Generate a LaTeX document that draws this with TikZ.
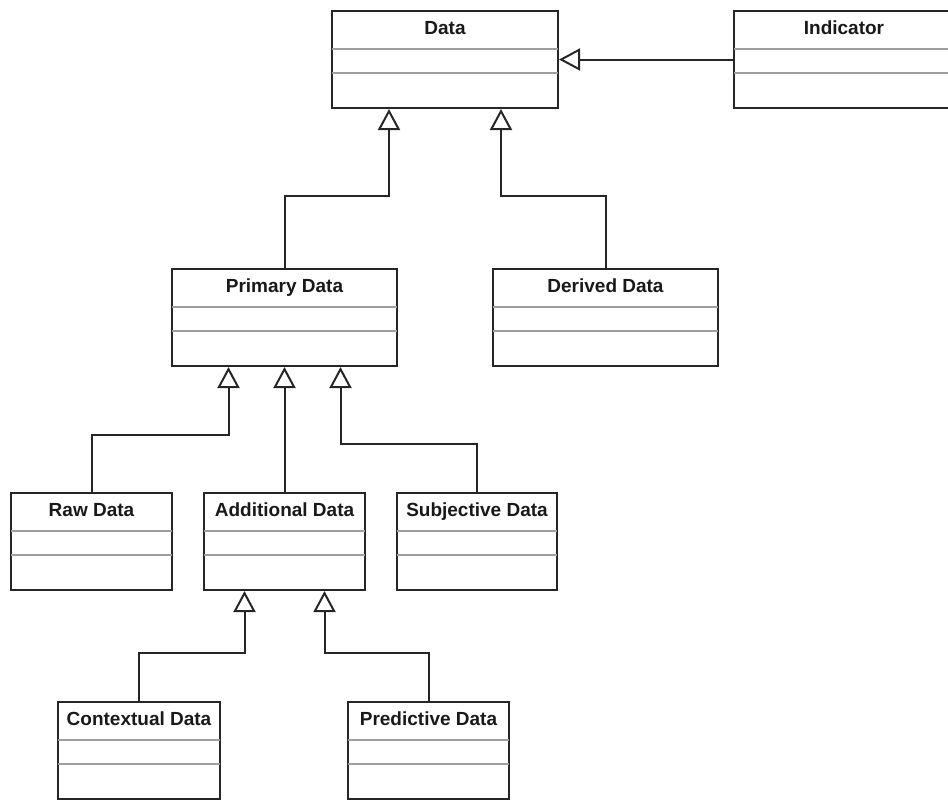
\documentclass[tikz,border=0pt]{standalone}
\usepackage{fontspec}
\setmainfont{Liberation Sans}
\usetikzlibrary{arrows.meta}
\tikzset{
  cls/.style={draw=black!85, line width=2pt, rectangle, anchor=north west, minimum height=97pt, inner sep=0pt},
  ttl/.style={font=\fontsize{19}{21}\selectfont\bfseries, text=black!90, inner sep=0pt, anchor=base},
  sep/.style={draw=black!38, line width=1.6pt},
  inh/.style={draw=black!85, line width=2pt, -{Triangle[open, length=21pt, width=22pt, fill=white]}},
}
\newcommand{\umlbox}[5]{%
  \node[cls, minimum width=#4pt] (#1) at (#2,#3) {};
  \node[ttl] (#1-t) at ([yshift=-24pt]#1.north) {#5};
  \draw[sep] ([yshift=-39pt,xshift=1pt]#1.north west) -- ([yshift=-39pt,xshift=-1pt]#1.north east);
  \draw[sep] ([yshift=-63pt,xshift=1pt]#1.north west) -- ([yshift=-63pt,xshift=-1pt]#1.north east);
}
\begin{document}
\begin{tikzpicture}[x=1pt, y=-1pt]
\useasboundingbox (0,0) rectangle (948,801);
\umlbox{data}{331}{10}{226}{Data}
\umlbox{indicator}{733}{10}{220}{Indicator}
\umlbox{primary}{171}{268}{225}{Primary Data}
\umlbox{derived}{492}{268}{225}{Derived Data}
\umlbox{raw}{10}{492}{161}{Raw Data}
\umlbox{additional}{203}{492}{161}{Additional Data}
\umlbox{subjective}{396}{492}{160}{Subjective Data}
\umlbox{contextual}{57}{701}{162}{Contextual Data}
\umlbox{predictive}{347}{701}{161}{Predictive Data}
\coordinate (j1) at (0,196);
\coordinate (j2) at (0,435);
\coordinate (j3) at (0,444);
\coordinate (j4) at (0,653);
\draw[inh] (indicator.west) -- (data.east);
\draw[inh] (primary.north) -- (primary.north |- j1) -| ([xshift=-56pt]data.south);
\draw[inh] (derived.north) -- (derived.north |- j1) -| ([xshift=56pt]data.south);
\draw[inh] (raw.north) -- (raw.north |- j2) -| ([xshift=-56pt]primary.south);
\draw[inh] (additional.north) -- (primary.south);
\draw[inh] (subjective.north) -- (subjective.north |- j3) -| ([xshift=56pt]primary.south);
\draw[inh] (contextual.north) -- (contextual.north |- j4) -| ([xshift=-40pt]additional.south);
\draw[inh] (predictive.north) -- (predictive.north |- j4) -| ([xshift=40pt]additional.south);
\end{tikzpicture}
\end{document}
